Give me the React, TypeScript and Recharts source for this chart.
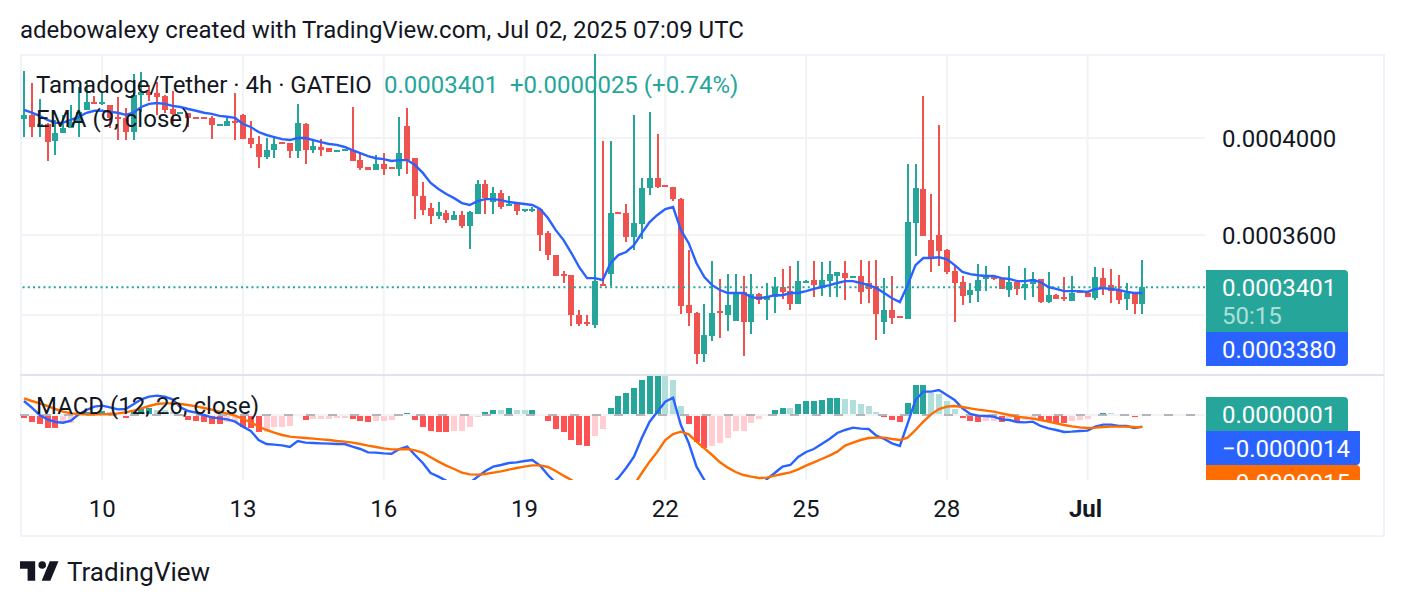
import React from 'react';
import { ComposedChart, Bar, Line, XAxis, YAxis, CartesianGrid, ReferenceLine } from 'recharts';

// prices in units of 0.0000001
const opens = [4084,4102,4048,4061,3987,4022,4044,4070,4124,4160,4155,4146,4093,4088,4026,4191,4205,4200,4187,4128,4111,4111,4090,4090,4088,4059,4053,4075,4102,4000,3974,3918,3948,3982,3978,3944,4061,3948,3961,3957,3939,3944,3948,3905,3875,3863,3888,3875,3867,4053,3913,3755,3707,3675,3687,3659,3679,3635,3683,3805,3731,3768,3715,3723,3697,3697,3703,3607,3522,3452,3446,3300,3275,3264,3413,3450,3691,3687,3592,3643,3788,3830,3801,3792,3743,3336,3307,3163,3225,3314,3300,3278,3384,3275,3376,3354,3365,3402,3387,3340,3417,3428,3406,3424,3443,3454,3435,3443,3417,3406,3275,3318,3296,3285,3647,3784,3580,3600,3541,3461,3420,3372,3387,3432,3439,3432,3391,3420,3398,3413,3432,3347,3372,3365,3350,3387,3380,3361,3435,3409,3391,3358,3380,3340];
const closes = [4102,4048,4061,3982,4022,4044,4070,4115,4160,4155,4160,4088,4084,4026,4191,4205,4191,4182,4124,4106,4115,4088,4086,4086,4057,4063,4075,4066,3995,3974,3918,3948,3974,3974,3944,4066,3948,3965,3948,3939,3948,3952,3901,3871,3863,3888,3867,3867,3935,3905,3755,3699,3675,3691,3659,3679,3635,3691,3805,3747,3768,3711,3723,3695,3703,3703,3600,3522,3443,3446,3300,3268,3268,3424,3406,3687,3683,3592,3647,3788,3830,3792,3792,3743,3332,3307,3163,3229,3307,3307,3336,3380,3275,3376,3354,3369,3402,3384,3340,3424,3424,3409,3428,3450,3458,3435,3443,3384,3395,3303,3318,3289,3289,3651,3788,3596,3507,3537,3458,3417,3369,3391,3428,3443,3432,3395,3420,3395,3413,3432,3347,3372,3358,3358,3380,3380,3365,3439,3398,3387,3354,3380,3340,3401];
const highs = [4304,4246,4173,4066,4079,4102,4146,4228,4246,4187,4205,4146,4182,4133,4288,4298,4237,4251,4191,4209,4115,4111,4090,4090,4097,4063,4097,4200,4106,4075,4009,4000,4009,3982,3978,4151,4066,3995,3995,3957,3948,3952,4137,3935,3875,3926,3935,3875,4093,4133,3913,3814,3727,3731,3699,3695,3695,3695,3822,3822,3793,3780,3755,3727,3703,3711,3703,3615,3522,3461,3446,3318,3300,4381,3987,3987,3691,3723,4102,3830,4115,4018,3801,3792,3747,3541,3311,3340,3499,3432,3450,3450,3443,3450,3380,3417,3439,3469,3480,3499,3428,3499,3495,3499,3458,3499,3443,3503,3499,3503,3435,3443,3296,3888,3888,4187,3764,4057,3545,3480,3443,3417,3488,3480,3443,3435,3480,3424,3473,3458,3432,3458,3376,3439,3443,3387,3387,3476,3473,3469,3446,3417,3384,3503];
const lows = [4004,4004,4004,3901,3926,4022,4044,4004,4124,4155,4146,4044,3991,3991,3991,4115,4164,4102,4111,4066,4111,4048,4086,4086,3995,4059,4053,3991,3995,3957,3871,3909,3913,3974,3913,3913,3888,3935,3922,3939,3939,3944,3901,3863,3863,3863,3842,3867,3838,3846,3663,3679,3643,3663,3647,3659,3627,3545,3683,3683,3683,3703,3715,3679,3691,3691,3537,3503,3443,3417,3260,3260,3260,3253,3406,3406,3683,3572,3541,3584,3760,3788,3792,3735,3303,3260,3128,3135,3208,3218,3243,3278,3156,3232,3340,3282,3307,3358,3318,3340,3417,3365,3369,3365,3365,3354,3435,3340,3343,3211,3232,3268,3289,3285,3518,3596,3458,3480,3450,3275,3336,3343,3347,3387,3428,3395,3365,3372,3354,3365,3343,3343,3358,3350,3350,3380,3365,3354,3372,3343,3340,3318,3303,3303];
const ema = [4124,4112,4097,4079,4066,4067,4079,4093,4111,4120,4120,4115,4111,4102,4111,4137,4151,4155,4151,4142,4137,4128,4120,4111,4106,4097,4093,4088,4061,4048,4026,4013,4004,3995,3991,4000,4000,3991,3982,3974,3970,3961,3948,3935,3922,3913,3909,3901,3905,3905,3884,3851,3809,3784,3764,3747,3727,3719,3735,3743,3743,3739,3731,3727,3723,3719,3703,3667,3619,3580,3530,3476,3435,3435,3428,3491,3522,3534,3560,3607,3651,3679,3703,3711,3619,3568,3491,3439,3409,3391,3380,3380,3380,3365,3361,3365,3372,3372,3380,3380,3387,3395,3402,3409,3417,3424,3424,3417,3409,3398,3380,3361,3347,3409,3484,3511,3511,3514,3507,3484,3458,3450,3446,3443,3443,3435,3432,3424,3424,3428,3420,3402,3395,3387,3387,3387,3384,3395,3398,3395,3391,3384,3380,3380];
const hist = [-3.2,-8,-11,-15,-16,-9,-10,-1.5,3.5,4,5,3.5,2.5,-4,3.5,7,9,6,6,3.5,1.2,-6,-7,-8,-11,-11,-8,-8,-14,-15,-20,-20,-14,-14,-13,-1.5,-6,-5,-5,-5,-4,-4,-5,-7,-8,-7,-7,-6,1.2,3,-6,-14,-19,-20,-20,-19,-19,-14,-2.5,3.5,6.5,6.5,8,6.5,6.5,6.5,1.2,-7,-17,-20,-30,-36,-37,-25,-17,8,23,27,32,42,47,47,47,42,11,-11,-32,-40,-37,-34,-28,-19,-19,-10,-5,1.2,6.5,9,9,13,16.5,16.5,18,20,20,19,18,13,11,3.5,-2.5,-6,-8,14,36,36,26,25,17,7,-3.5,-7,-8,-7,-7,-8,-3.5,-7,-6,-6,-7,-7,-10,-10,-7,-6,-5,1.5,2.5,2.5,1,1,-2.5,1];
const histShade = 'RRRRRrrrGGGggRGGGggggRRRRRrrRRRrrrrrRrrrrrRRRrrrGGRRRRRrrrrGGgGggGgRRRRRRrrGGGGGGGgggRRRrrrrrrrGGGgGGGGGGgggggRRRGGGggggRRRrrRrRrrRRRRrrrGGggGRG';
const macd = [16.8,8.8,0,-5.2,-8.4,-9.2,-6.8,0.8,6,10,11.2,9.2,6.8,7.2,12.8,18.8,22,23.2,22,18.8,9.2,4.8,2.8,0,-2.8,-4,-5.2,-8,-14,-19.2,-30,-34.8,-35.6,-36.4,-38.4,-31.2,-33.2,-33.6,-34,-34.4,-34.8,-34.8,-38,-40.8,-44.8,-45.2,-46,-46.4,-40.8,-38,-48,-57.6,-69.6,-74,-79,-86.4,-87.6,-81.6,-74,-67.2,-62,-60,-57.6,-56.8,-55.2,-54,-60.8,-72,-81.6,-90,-96,-99.6,-102,-96,-90,-84,-75.6,-63.6,-50,-27.6,-8,4,16,20.8,-12,-33.6,-62,-78,-87.6,-96,-99.6,-104.4,-104.4,-102,-96,-76.8,-69.6,-62,-60,-50.4,-44.4,-40.8,-34.8,-28.8,-21.6,-18,-15.2,-16.4,-16.8,-24.8,-28.8,-34,-37.2,-10,18,28,28,30,24,18,8,1.2,-0.8,-1.2,-2,-5.2,-6,-8.4,-8.8,-8,-13.2,-16,-18,-20.4,-20,-19.2,-18.8,-14,-11.6,-11.6,-13.2,-13.2,-15.6,-14];
const signal = [20,16.8,14,10.8,7.2,4,2,1.2,0.8,0.8,0.8,1.2,2,3.2,5.2,8,10.8,13.2,14,14,13.2,12,10.4,8.4,6.4,4,1.6,-0.8,-4.8,-8.8,-14,-18,-21.2,-24,-26,-26.8,-27.6,-28.4,-29.2,-30,-31.2,-32,-33.2,-34.8,-36.8,-38.4,-40,-41.2,-41.2,-40.8,-42.4,-45.2,-50.8,-56,-60.8,-64.8,-69.2,-71.2,-71.6,-70.8,-69.2,-67.6,-65.6,-63.6,-62,-60.4,-60.4,-62.4,-67.2,-72.8,-78,-84,-90,-93.6,-98.4,-99.6,-98.4,-93.6,-84,-69.6,-56,-44,-30,-22.8,-20,-23.2,-32,-40,-48,-56.8,-63.2,-68.4,-72,-74,-75.6,-75.2,-72.8,-70.8,-68.8,-65.2,-60.8,-56.8,-52.8,-48.8,-44,-36.8,-33.2,-30,-27.6,-27.2,-27.2,-28.8,-30,-27.2,-18,-8,0.8,7.2,10,10.8,9.6,8,6.4,5.2,4,2,0,-2,-3.2,-4.4,-6,-8,-10,-12,-13.6,-14.8,-15.6,-15.2,-14.4,-14,-14,-14,-14.4,-14.5];

const dayTicks = [10, 28, 46, 64, 82, 100, 118, 136];
const dayLabels = ['10', '13', '16', '19', '22', '25', '28', 'Jul'];
const priceTicks = [3600, 4000];
const priceGrid = [3300, 3600, 4000];
const lastPrice = 3401;

const UP = '#26a69a';
const DOWN = '#ef5350';
const BLUE = '#2962ff';
const ORANGE = '#ff6d00';
const INK = '#131722';
const GRID = '#f2f3f5';
const shadeColor: Record<string, string> = { R: '#ff5252', r: '#ffcdd2', G: '#26a69a', g: '#b2dfdb' };
const FONT = 'Roboto, sans-serif';

const candles = opens.map((o, i) => ({
  i, open: o, close: closes[i], high: highs[i], low: lows[i], range: [lows[i], highs[i]], ema: ema[i],
}));
const macdRows = hist.map((h, i) => ({ i, hist: h, macd: macd[i], signal: signal[i], shade: histShade[i] }));

const xDomain: [number, number] = [-0.511, 151.02];

function Candle(props: any) {
  const { x, y, width, height, payload } = props;
  const { open, close, high, low } = payload;
  const at = (v: number) => y + (height * Math.log(high / v)) / Math.log(high / low);
  const color = close >= open ? UP : DOWN;
  const cx = Math.round(x + width / 2);
  const wickTop = Math.round(y);
  const wickBottom = Math.round(y + height);
  const top = Math.round(at(Math.max(open, close)));
  const bodyH = Math.max(Math.round(at(Math.min(open, close))) - top, 2);
  return (
    <g shapeRendering="crispEdges">
      <rect x={cx - 1} y={wickTop} width={2} height={wickBottom - wickTop} fill={color} />
      <rect x={cx - 3} y={top} width={6} height={bodyH} fill={color} />
    </g>
  );
}

function HistBar(props: any) {
  const { x, y, width, height, payload } = props;
  const cx = Math.round(x + width / 2);
  const a = Math.round(y);
  const b = Math.round(y + height);
  return (
    <rect
      x={cx - 3}
      y={Math.min(a, b)}
      width={6}
      height={Math.abs(b - a)}
      fill={shadeColor[payload.shade]}
      shapeRendering="crispEdges"
    />
  );
}

function DayTick(props: any) {
  const { x, y, payload } = props;
  const k = dayTicks.indexOf(payload.value);
  const bold = dayLabels[k] === 'Jul';
  return (
    <text x={bold ? x - 2 : x} y={y - 1} textAnchor="middle" dominantBaseline="central" fontFamily={FONT} fontSize={24} fontWeight={bold ? 700 : 400} fill={INK}>
      {dayLabels[k]}
    </text>
  );
}

const txt = (left: number, top: number, s: string, color = INK, extra: React.CSSProperties = {}) => (
  <div style={{ position: 'absolute', left, top, font: `400 24px/28px ${FONT}`, color, whiteSpace: 'pre', ...extra }}>{s}</div>
);

const box = (top: number, height: number, width: number, bg: string, round = '0 4px 4px 0') => (
  <div style={{ position: 'absolute', left: 1206, top, width, height, background: bg, borderRadius: round }} />
);

export default function App() {
  return (
    <div style={{ position: 'absolute', left: 0, top: 0, width: 1404, height: 606, background: '#fff', overflow: 'hidden' }}>
      <div style={{ position: 'absolute', left: 20, top: 54, width: 1365, height: 483, border: '2px solid #f0f3fa', boxSizing: 'border-box' }} />

      <div style={{ position: 'absolute', left: 20, top: 54 }}>
        <ComposedChart width={1364} height={321} data={candles} margin={{ top: 0, right: 0, bottom: 0, left: 0 }}>
          <CartesianGrid stroke={GRID} strokeWidth={2} horizontalValues={priceGrid} verticalValues={dayTicks} />
          <XAxis dataKey="i" type="number" domain={xDomain} allowDataOverflow ticks={dayTicks} hide />
          <YAxis
            orientation="right"
            width={179}
            scale="log"
            domain={[3092, 4382]}
            allowDataOverflow
            ticks={priceTicks}
            axisLine={false}
            tickLine={false}
            tickMargin={11}
            tick={{ fontFamily: FONT, fontSize: 24, fill: INK, textAnchor: 'start', dy: 1 }}
            tickFormatter={(v: number) => (v * 1e-7).toFixed(7)}
          />
          <ReferenceLine y={lastPrice} stroke={UP} strokeWidth={2} strokeDasharray="2 3.2" />
          <Bar dataKey="range" barSize={6} shape={<Candle />} isAnimationActive={false} />
          <Line dataKey="ema" stroke={BLUE} strokeWidth={2.4} dot={false} activeDot={false} type="linear" isAnimationActive={false} />
        </ComposedChart>
      </div>

      <div style={{ position: 'absolute', left: 20, top: 374, width: 1364, height: 2, background: '#e0e3eb' }} />

      <div style={{ position: 'absolute', left: 20, top: 376 }}>
        <ComposedChart width={1364} height={160} data={macdRows} margin={{ top: 0, right: 179, bottom: 0, left: 0 }}>
          <CartesianGrid stroke={GRID} strokeWidth={2} horizontal={false} verticalValues={dayTicks} />
          <XAxis
            dataKey="i"
            type="number"
            domain={xDomain}
            allowDataOverflow
            ticks={dayTicks}
            interval={0}
            height={56}
            axisLine={false}
            tickLine={false}
            tick={<DayTick />}
            tickMargin={24}
          />
          <YAxis hide domain={[-78, 46.8]} allowDataOverflow />
          <ReferenceLine y={0} stroke={GRID} strokeWidth={2} />
          <Bar dataKey="hist" barSize={6} shape={<HistBar />} isAnimationActive={false} />
          <ReferenceLine y={0} stroke="#b2b5be" strokeWidth={2} strokeDasharray="9 13" />
          <Line dataKey="macd" stroke={BLUE} strokeWidth={2.4} dot={false} activeDot={false} type="linear" isAnimationActive={false} />
          <Line dataKey="signal" stroke={ORANGE} strokeWidth={2.4} dot={false} activeDot={false} type="linear" isAnimationActive={false} />
        </ComposedChart>
      </div>

      {txt(20, 16, 'adebowalexy created with TradingView.com, Jul 02, 2025 07:09 UTC')}
      {txt(36, 71, 'Tamadoge/Tether · 4h · GATEIO')}
      {txt(384, 71, '0.0003401', UP)}
      {txt(510, 71, '+0.0000025 (+0.74%)', UP)}
      {txt(36, 105, 'EMA (9, close)')}
      {txt(36, 392, 'MACD (12, 26, close)')}

      {box(270, 62, 142, UP, '0 4px 0 0')}
      {box(332, 34, 142, BLUE, '0 0 4px 0')}
      {txt(1222, 274, '0.0003401', '#fff')}
      {txt(1222, 302, '50:15', 'rgba(255,255,255,0.65)')}
      {txt(1222, 336, '0.0003380', '#fff')}

      <div style={{ position: 'absolute', left: 0, top: 0, width: 1404, height: 480, overflow: 'hidden' }}>
        {box(397, 34, 142, UP, '0 4px 0 0')}
        {box(431, 34, 154, BLUE, '0 0 4px 0')}
        {box(465, 34, 154, ORANGE, '0 4px 0 0')}
        {txt(1222, 401, '0.0000001', '#fff')}
        {txt(1222, 435, '−0.0000014', '#fff')}
        {txt(1222, 469, '−0.0000015', '#fff')}
      </div>

      <svg style={{ position: 'absolute', left: 20, top: 561 }} width={39} height={20} viewBox="0 6 36 18">
        <path d="M14 6H0v7h7v11h7V6zm14 18h-8l7.5-18h8L28 24z" fill={INK} />
        <circle cx={20.5} cy={9.5} r={3.5} fill={INK} />
      </svg>
      {txt(67, 557, 'TradingView', INK, { fontSize: 26, lineHeight: '30px' })}
    </div>
  );
}
